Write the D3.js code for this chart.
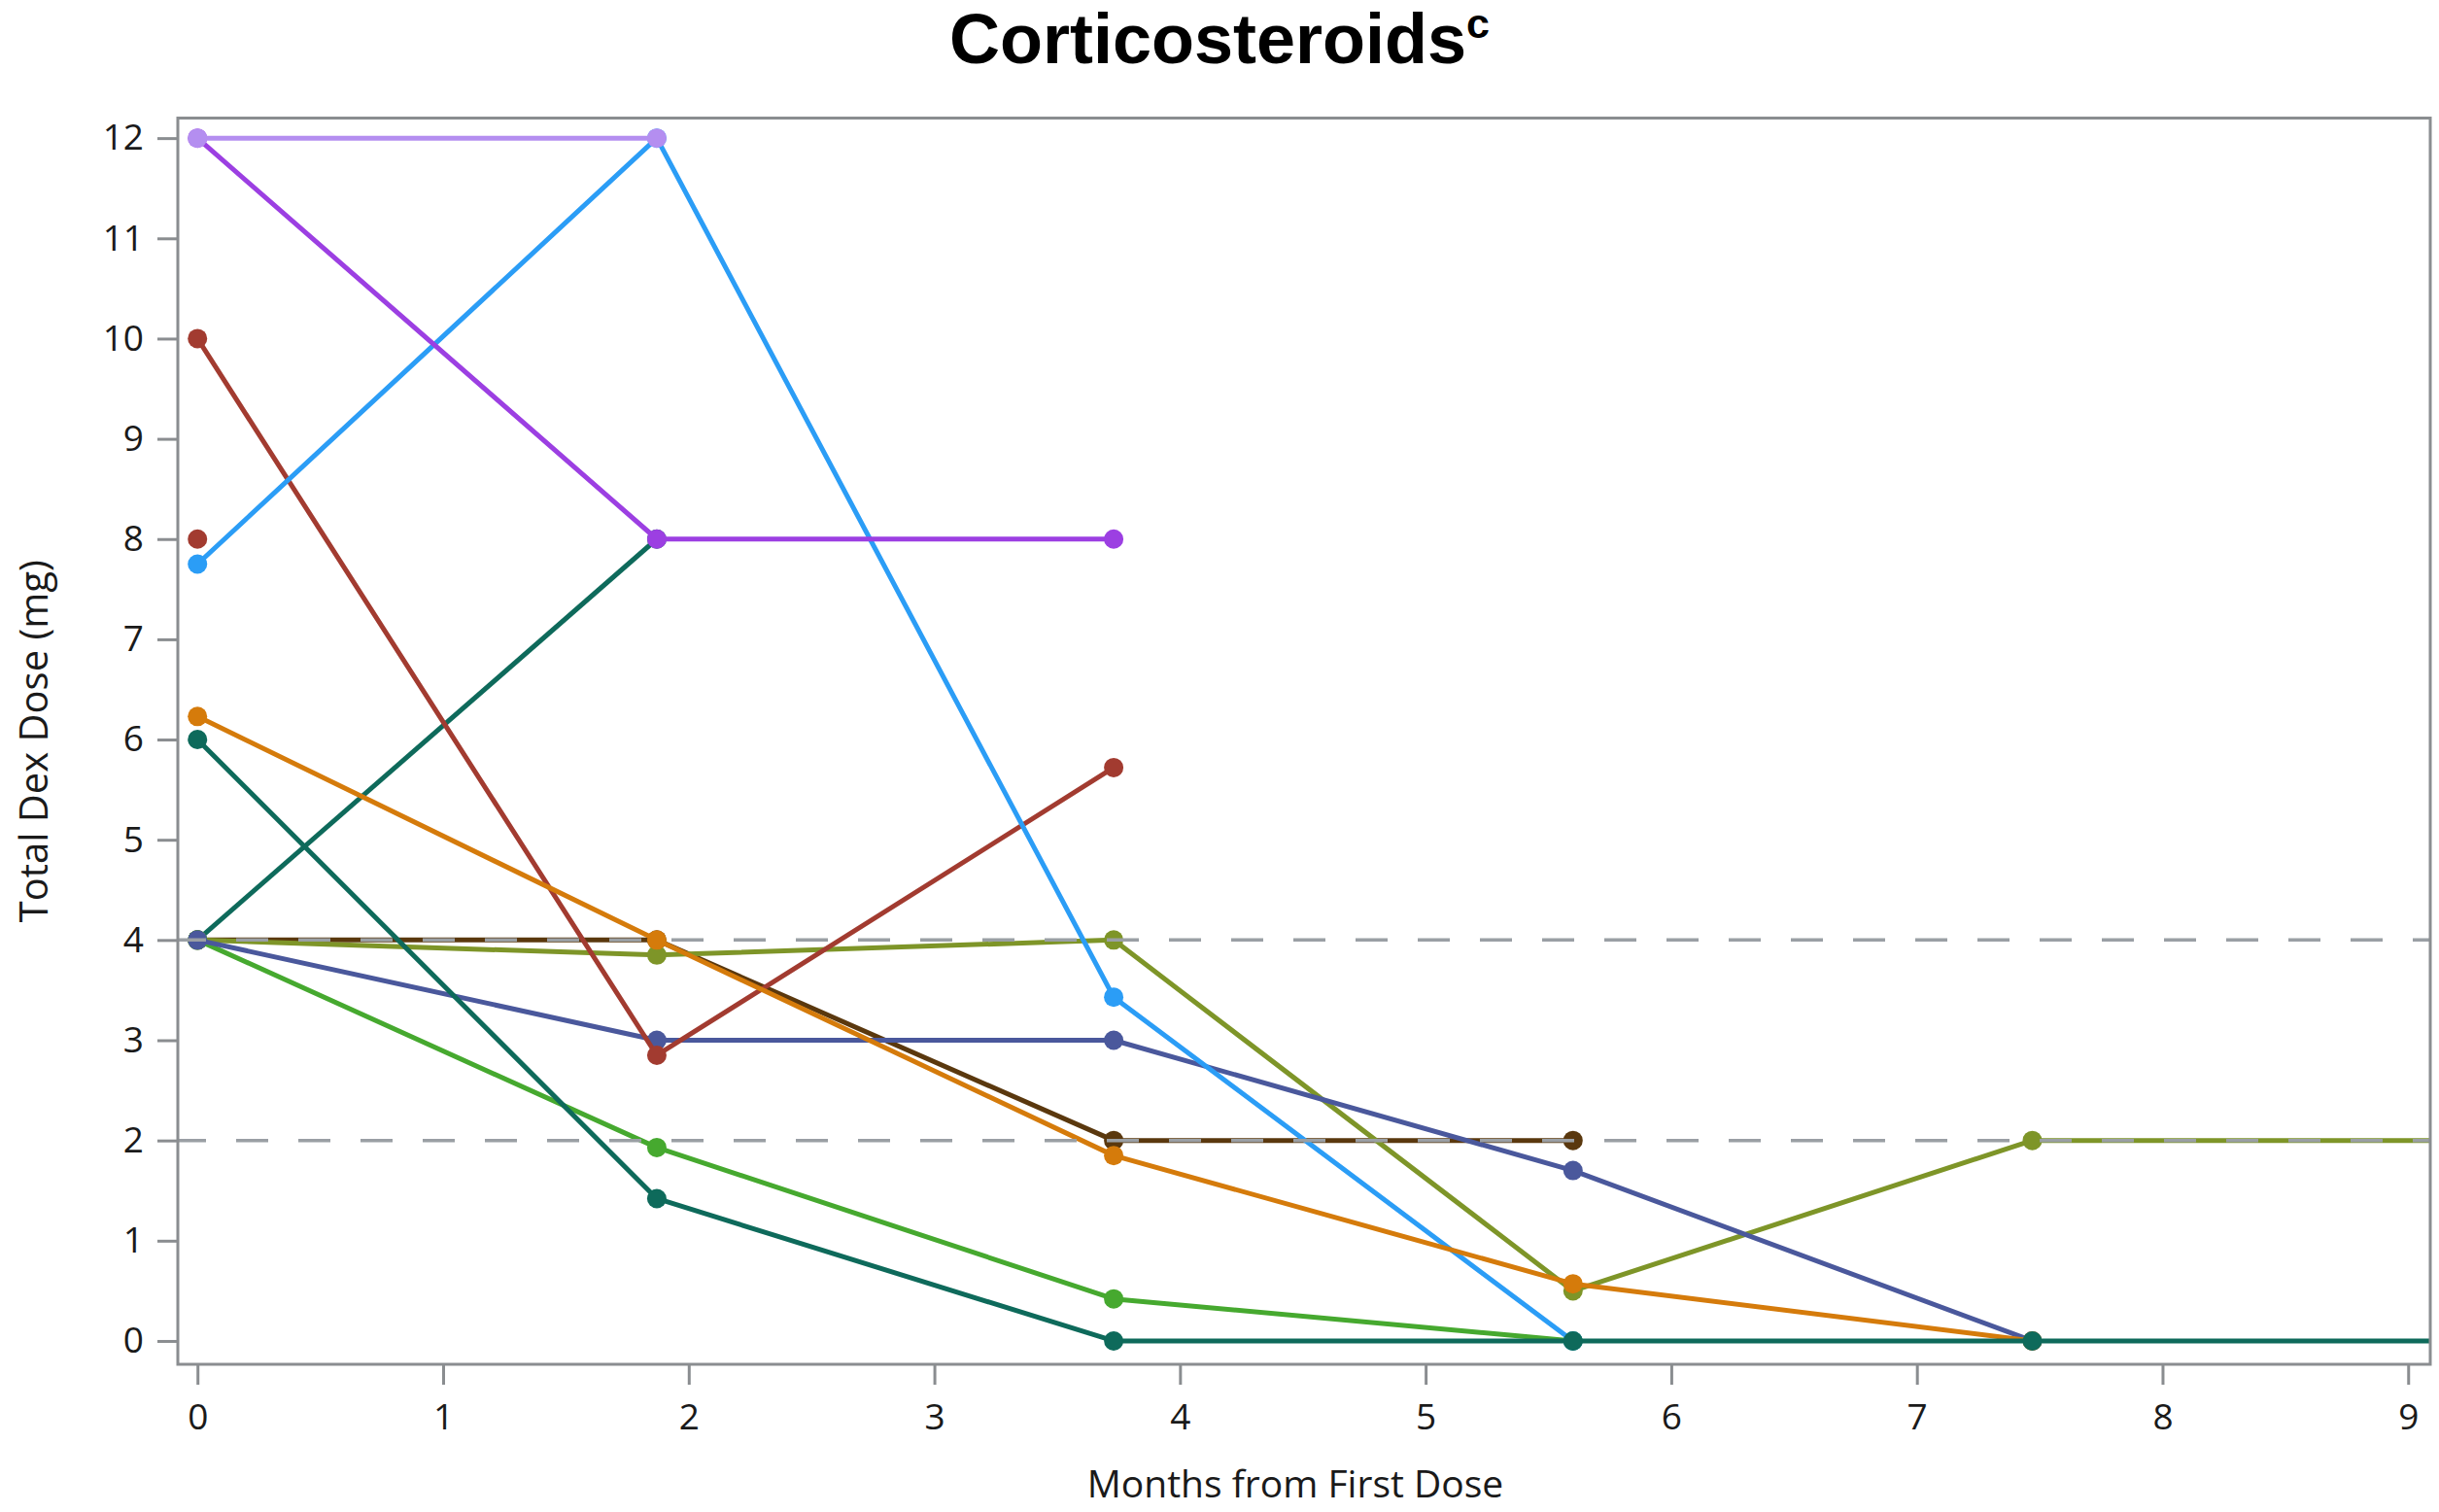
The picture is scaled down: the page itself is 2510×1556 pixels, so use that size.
<!DOCTYPE html>
<head>
  <meta charset="utf-8">
  <title>Corticosteroids</title>
  <script src="https://cdn.jsdelivr.net/npm/d3@7"></script>
  <style>
    body { margin: 0; background: #ffffff; }
    .axis text { font-family: 'Open Sans', sans-serif; font-size: 37px; fill: #1a1a1a; }
    .axis line { stroke: #8a8d90; stroke-width: 3px; }
    .axis path.domain { stroke: none; }
  </style>
</head>
<body>
<script>
  // visit times (months from first dose); last one sits just past the right edge
  var months = [0, 1.87, 3.73, 5.6, 7.47, 9.33];

  // total dex dose (mg) per patient at each visit, null = no visit
  var lavender = [12, 12];
  var purple   = [12, 8, 8];
  var blue     = [7.75, 12, 3.43, 0];
  var red      = [10, 2.85, 5.72];
  var redOnly  = [8];
  var orange   = [6.23, 4, 1.85, 0.57, 0];
  var tealA    = [6, 1.42, 0, 0, 0, 0];
  var tealB    = [4, 8];
  var brown    = [4, 4, 2, 2];
  var olive    = [4, 3.85, 4, 0.5, 2, 2];
  var slate    = [4, 3, 3, 1.7, 0];
  var green    = [4, 1.93, 0.42, 0];

  // reference lines and ticks
  var refLines = [4, 2];
  var yTicks = d3.range(0, 13);
  var xTicks = d3.range(0, 10);

  // draw order, bottom to top
  var series = [
    { values: tealB,    color: "#0e6a5b" },
    { values: brown,    color: "#5a380e" },
    { values: olive,    color: "#7e9528" },
    { values: green,    color: "#46a92f" },
    { values: slate,    color: "#4a589c" },
    { values: red,      color: "#a23b30" },
    { values: redOnly,  color: "#a23b30" },
    { values: blue,     color: "#2b9df6" },
    { values: purple,   color: "#9c3fe2" },
    { values: lavender, color: "#b48ef0" },
    { values: orange,   color: "#d57b0b" },
    { values: tealA,    color: "#0e6a5b" }
  ];

  var width = 2510, height = 1556;
  var plot = { left: 183, right: 2501, top: 121.5, bottom: 1404 };

  var x = d3.scaleLinear().domain([-0.08, 9.09]).range([plot.left, plot.right]);
  var y = d3.scaleLinear().domain([-0.233, 12.2]).range([plot.bottom, plot.top]);

  var svg = d3.select("body").append("svg")
    .attr("width", width)
    .attr("height", height);

  svg.append("defs").append("clipPath")
    .attr("id", "plotClip")
    .append("rect")
    .attr("x", plot.left)
    .attr("y", plot.top)
    .attr("width", plot.right - plot.left)
    .attr("height", plot.bottom - plot.top);

  // title
  var title = svg.append("text")
    .attr("x", width / 2)
    .attr("y", 65)
    .attr("text-anchor", "middle")
    .style("font-family", "'Liberation Sans', Arial, sans-serif")
    .style("font-weight", "bold")
    .style("font-size", "72px")
    .style("fill", "#000");
  title.append("tspan").text("Corticosteroids");
  title.append("tspan").attr("dy", -26).style("font-size", "43px").text("c");

  // axes
  svg.append("g")
    .attr("class", "axis")
    .attr("transform", "translate(" + plot.left + ",0)")
    .call(d3.axisLeft(y).tickValues(yTicks).tickSize(21).tickPadding(14));

  svg.append("g")
    .attr("class", "axis")
    .attr("transform", "translate(0," + plot.bottom + ")")
    .call(d3.axisBottom(x).tickValues(xTicks).tickSize(21).tickPadding(20));

  // axis titles
  svg.append("text")
    .attr("x", 1333)
    .attr("y", 1541)
    .attr("text-anchor", "middle")
    .style("font-family", "'Open Sans', sans-serif")
    .style("font-size", "39px")
    .style("fill", "#1a1a1a")
    .text("Months from First Dose");

  svg.append("text")
    .attr("transform", "translate(49," + (plot.top + plot.bottom) / 2 + ") rotate(-90)")
    .attr("text-anchor", "middle")
    .style("font-family", "'Open Sans', sans-serif")
    .style("font-size", "40px")
    .style("fill", "#1a1a1a")
    .text("Total Dex Dose (mg)");

  // patient lines and markers
  var g = svg.append("g").attr("clip-path", "url(#plotClip)");

  var line = d3.line()
    .defined(function (d) { return d.v != null; })
    .x(function (d) { return x(d.t); })
    .y(function (d) { return y(d.v); });

  series.forEach(function (s) {
    var pts = s.values.map(function (v, i) { return { t: months[i], v: v }; });
    g.append("path")
      .datum(pts)
      .attr("d", line)
      .attr("fill", "none")
      .attr("stroke", s.color)
      .attr("stroke-width", 5)
      .attr("stroke-linejoin", "round");
    g.selectAll(null)
      .data(pts.filter(function (d) { return d.v != null; }))
      .enter().append("circle")
      .attr("cx", function (d) { return x(d.t); })
      .attr("cy", function (d) { return y(d.v); })
      .attr("r", 10)
      .attr("fill", s.color);
  });

  // dashed reference lines sit on top of the data
  g.selectAll(".ref")
    .data(refLines)
    .enter().append("line")
    .attr("class", "ref")
    .attr("x1", plot.left)
    .attr("x2", plot.right)
    .attr("y1", function (d) { return y(d); })
    .attr("y2", function (d) { return y(d); })
    .attr("stroke", "#9a9fa4")
    .attr("stroke-width", 3.5)
    .attr("stroke-dasharray", "33,31")
    .attr("stroke-dashoffset", 4);

  // frame
  svg.append("rect")
    .attr("x", plot.left)
    .attr("y", plot.top)
    .attr("width", plot.right - plot.left)
    .attr("height", plot.bottom - plot.top)
    .attr("fill", "none")
    .attr("stroke", "#8a8d90")
    .attr("stroke-width", 3);
</script>
</body>
